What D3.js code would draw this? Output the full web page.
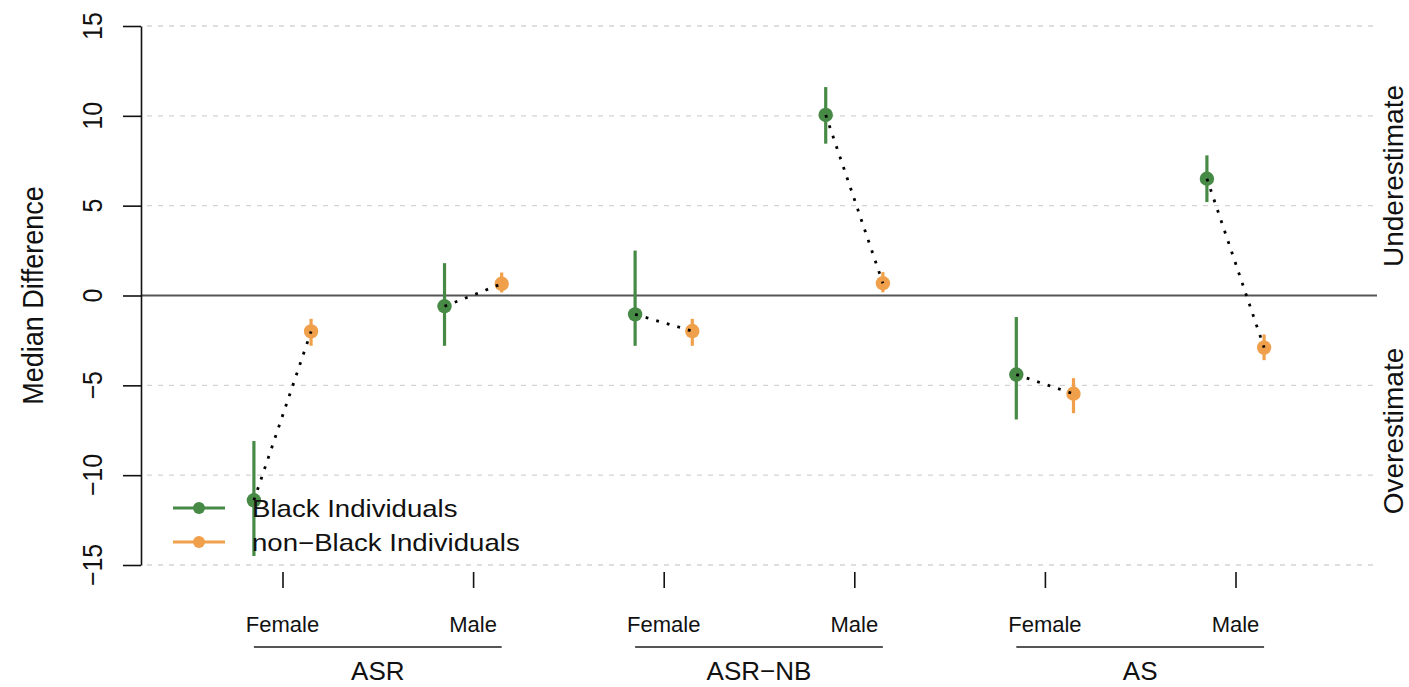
<!DOCTYPE html>
<html>
<head>
<meta charset="utf-8">
<script src="https://cdn.jsdelivr.net/npm/d3@7"></script>
<style>
  body { margin: 0; background: #fff; }
  text { font-family: "Liberation Sans", Arial, sans-serif; fill: #111; }
</style>
</head>
<body>
<div id="canvas"></div>
<script>
// values (median difference and interval ends)
let groups = ["ASR", "ASR\u2212NB", "AS"];
let sexes = ["Female", "Male"];
let blackMed = [-11.4, -0.6, -1.05, 10.05, -4.4, 6.5];
let blackLo = [-14.5, -2.8, -2.8, 8.45, -6.9, 5.2];
let blackHi = [-8.1, 1.8, 2.5, 11.6, -1.2, 7.8];
let nonBlackMed = [-2.0, 0.65, -1.98, 0.68, -5.47, -2.9];
let nonBlackLo = [-2.8, 0.17, -2.8, 0.18, -6.55, -3.6];
let nonBlackHi = [-1.3, 1.28, -1.3, 1.3, -4.6, -2.17];
let yTicks = [-15, -10, -5, 0, 5, 10, 15];
let legendLabels = ["Black Individuals", "non\u2212Black Individuals"];

let colors = { black: "#468a46", nonBlack: "#f0a04b" };
let offset = 0.15;

let width = 1409,
  height = 687;

let svg = d3
  .select("#canvas")
  .append("svg")
  .attr("width", width)
  .attr("height", height)
  .style("background", "#fff");

let x = d3.scaleLinear().domain([1, 6]).range([282.5, 1235.5]);
let y = d3.scaleLinear().domain([-15, 15]).range([565, 26]);
let plotLeft = 141,
  plotRight = 1377;

// one record per group x sex
let rows = d3.range(6).map((i) => ({
  pos: i + 1,
  sex: sexes[i % 2],
  group: groups[Math.floor(i / 2)],
  black: { med: blackMed[i], lo: blackLo[i], hi: blackHi[i] },
  nonBlack: { med: nonBlackMed[i], lo: nonBlackLo[i], hi: nonBlackHi[i] },
}));

// grid
svg
  .append("g")
  .selectAll("line")
  .data(yTicks.filter((d) => d !== 0))
  .join("line")
  .attr("x1", plotLeft + 6)
  .attr("x2", plotRight)
  .attr("y1", (d) => y(d))
  .attr("y2", (d) => y(d))
  .attr("stroke", "#d4d4d4")
  .attr("stroke-width", 1.3)
  .attr("stroke-dasharray", "5,6");

svg
  .append("line")
  .attr("x1", plotLeft)
  .attr("x2", plotRight)
  .attr("y1", y(0))
  .attr("y2", y(0))
  .attr("stroke", "#555")
  .attr("stroke-width", 2);

// y axis
let yAxis = svg
  .append("g")
  .attr("transform", `translate(${plotLeft},0)`)
  .call(d3.axisLeft(y).tickValues(yTicks).tickSize(18).tickSizeOuter(0).tickFormat(""));
yAxis.select(".domain").attr("stroke", "#111").attr("stroke-width", 1.6);
yAxis.selectAll(".tick line").attr("stroke", "#111").attr("stroke-width", 1.6);

svg
  .append("g")
  .selectAll("text")
  .data(yTicks)
  .join("text")
  .attr("transform", (d) => `translate(102,${y(d)}) scale(1.1,1) rotate(-90)`)
  .attr("text-anchor", "middle")
  .style("font-size", "25px")
  .text((d) => (d < 0 ? "\u2212" + Math.abs(d) : d));

svg
  .append("text")
  .attr("transform", `translate(43,${y(0)}) scale(1.1,1) rotate(-90)`)
  .attr("text-anchor", "middle")
  .style("font-size", "27px")
  .text("Median Difference");

svg
  .append("text")
  .attr("transform", `translate(1403,176) rotate(-90)`)
  .attr("text-anchor", "middle")
  .style("font-size", "28px")
  .text("Underestimate");

svg
  .append("text")
  .attr("transform", `translate(1403,431) rotate(-90)`)
  .attr("text-anchor", "middle")
  .style("font-size", "28px")
  .text("Overestimate");

// x axis ticks and labels
let xAxis = svg
  .append("g")
  .attr("transform", "translate(0,572)")
  .call(d3.axisBottom(x).tickValues(rows.map((d) => d.pos)).tickSize(16).tickFormat(""));
xAxis.select(".domain").remove();
xAxis.selectAll(".tick line").attr("stroke", "#111").attr("stroke-width", 1.6);

svg
  .append("g")
  .selectAll("text")
  .data(rows)
  .join("text")
  .attr("x", (d) => x(d.pos))
  .attr("y", 632)
  .attr("text-anchor", "middle")
  .style("font-size", "22px")
  .text((d) => d.sex);

let groupG = svg
  .append("g")
  .selectAll("g")
  .data(groups)
  .join("g");

groupG
  .append("line")
  .attr("x1", (d, i) => x(2 * i + 1 - offset))
  .attr("x2", (d, i) => x(2 * i + 2 + offset))
  .attr("y1", 647)
  .attr("y2", 647)
  .attr("stroke", "#555")
  .attr("stroke-width", 2);

groupG
  .append("text")
  .attr("x", (d, i) => (x(2 * i + 1 - offset) + x(2 * i + 2 + offset)) / 2)
  .attr("y", 680)
  .attr("text-anchor", "middle")
  .style("font-size", "26px")
  .text((d) => d);

// error bars and points
let series = [
  { key: "black", shift: -offset },
  { key: "nonBlack", shift: offset },
];

series.forEach((s) => {
  let g = svg.append("g");
  g.selectAll("line")
    .data(rows)
    .join("line")
    .attr("x1", (d) => x(d.pos + s.shift))
    .attr("x2", (d) => x(d.pos + s.shift))
    .attr("y1", (d) => y(d[s.key].lo))
    .attr("y2", (d) => y(d[s.key].hi))
    .attr("stroke", colors[s.key])
    .attr("stroke-width", 3.2);
  g.selectAll("circle")
    .data(rows)
    .join("circle")
    .attr("cx", (d) => x(d.pos + s.shift))
    .attr("cy", (d) => y(d[s.key].med))
    .attr("r", 7.2)
    .attr("fill", colors[s.key]);
});

// dotted connectors
svg
  .append("g")
  .selectAll("line")
  .data(rows)
  .join("line")
  .attr("x1", (d) => x(d.pos - offset))
  .attr("y1", (d) => y(d.black.med))
  .attr("x2", (d) => x(d.pos + offset))
  .attr("y2", (d) => y(d.nonBlack.med))
  .attr("stroke", "#000")
  .attr("stroke-width", 2.8)
  .attr("stroke-dasharray", "2.8,8.2");

// legend
let legend = svg
  .append("g")
  .selectAll("g")
  .data(series)
  .join("g")
  .attr("transform", (d, i) => `translate(0,${508 + i * 34})`);

legend
  .append("line")
  .attr("x1", 173)
  .attr("x2", 225)
  .attr("stroke", (d) => colors[d.key])
  .attr("stroke-width", 3.2);

legend
  .append("circle")
  .attr("cx", 199)
  .attr("r", 6)
  .attr("fill", (d) => colors[d.key]);

legend
  .append("text")
  .attr("transform", "translate(252,9) scale(1.15,1)")
  .style("font-size", "24px")
  .text((d, i) => legendLabels[i]);
</script>
</body>
</html>
